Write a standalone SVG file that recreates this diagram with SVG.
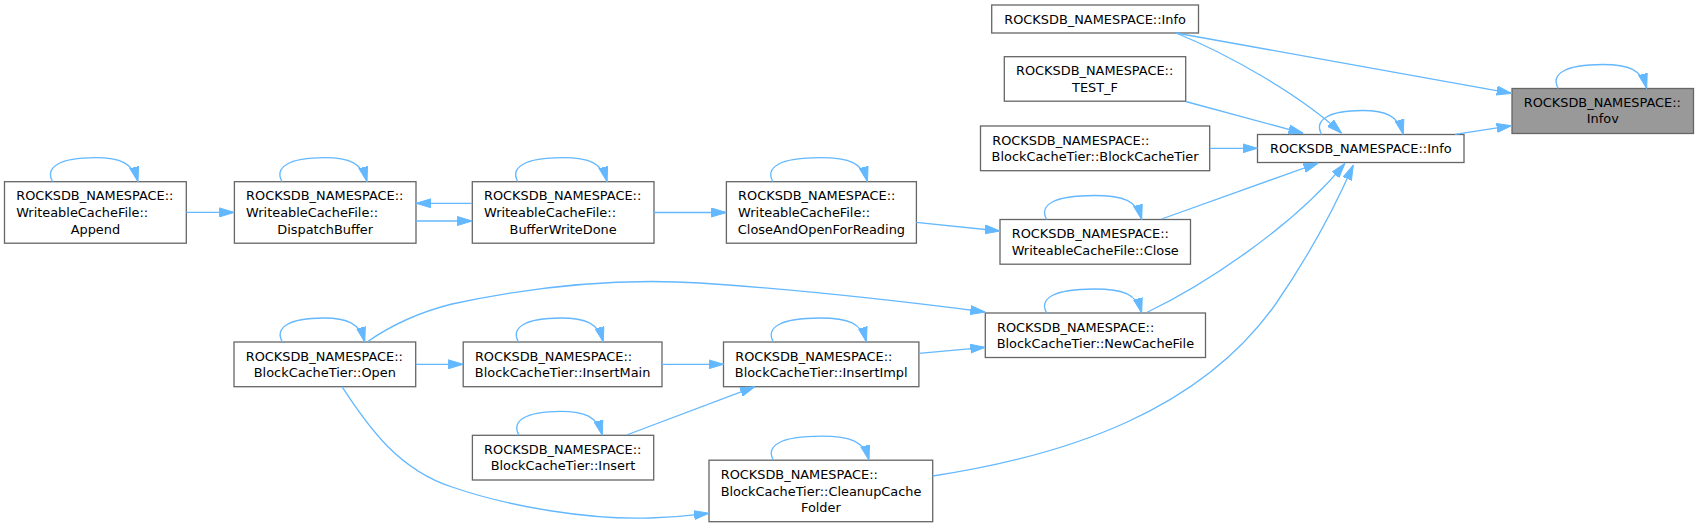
<svg xmlns="http://www.w3.org/2000/svg" width="1699" height="527" viewBox="0 0 1699 527">
<style>
.node rect{fill:#ffffff;stroke:#666666;stroke-width:1.3}
.node rect.cur{fill:#999999}
.node text{font-family:"DejaVu Sans",sans-serif;font-size:12.9px;fill:#000000}
.node text.m{text-anchor:middle}
.edge{fill:none;stroke:#63b8ff;stroke-width:1.3;marker-end:url(#ah)}
</style>
<defs>
<marker id="ah" viewBox="0 0 15 10" refX="15" refY="5" markerWidth="15" markerHeight="10" markerUnits="userSpaceOnUse" orient="auto">
<path d="M0,0.5 L15,5 L0,9.5 z" fill="#63b8ff" stroke="#63b8ff" stroke-width="1"/>
</marker>
</defs>
<rect x="0" y="0" width="1699" height="527" fill="#ffffff"/>
<g id="nodes">
<g id="node1" class="node"><rect class="cur" x="1512" y="88.5" width="181.5" height="45"/><text x="1523.7" y="106.8">ROCKSDB_NAMESPACE::</text><text class="m" x="1602.75" y="123.3">Infov</text></g>
<g id="node2" class="node"><rect x="1257.5" y="134.5" width="206.5" height="28"/><text class="m" x="1360.75" y="153">ROCKSDB_NAMESPACE::Info</text></g>
<g id="node3" class="node"><rect x="991.7" y="5" width="206.8" height="28"/><text class="m" x="1095.1" y="23.5">ROCKSDB_NAMESPACE::Info</text></g>
<g id="node4" class="node"><rect x="1004.3" y="56.7" width="181.4" height="44.5"/><text x="1016" y="75.2">ROCKSDB_NAMESPACE::</text><text class="m" x="1095" y="91.7">TEST_F</text></g>
<g id="node5" class="node"><rect x="980.5" y="126" width="229.2" height="44.7"/><text x="992.2" y="144.5">ROCKSDB_NAMESPACE::</text><text class="m" x="1095.1" y="161">BlockCacheTier::BlockCacheTier</text></g>
<g id="node6" class="node"><rect x="1000" y="219.5" width="190.5" height="44.7"/><text x="1011.7" y="238">ROCKSDB_NAMESPACE::</text><text class="m" x="1095.25" y="254.5">WriteableCacheFile::Close</text></g>
<g id="node7" class="node"><rect x="985.3" y="313" width="220.2" height="44.5"/><text x="997" y="331.5">ROCKSDB_NAMESPACE::</text><text class="m" x="1095.4" y="348">BlockCacheTier::NewCacheFile</text></g>
<g id="node8" class="node"><rect x="726.4" y="181.7" width="190" height="61.5"/><text x="738.1" y="200.4">ROCKSDB_NAMESPACE::</text><text x="738.1" y="217">WriteableCacheFile::</text><text class="m" x="821.4" y="233.7">CloseAndOpenForReading</text></g>
<g id="node9" class="node"><rect x="472.3" y="181.7" width="181.7" height="61.5"/><text x="484" y="200.4">ROCKSDB_NAMESPACE::</text><text x="484" y="217">WriteableCacheFile::</text><text class="m" x="563.15" y="233.7">BufferWriteDone</text></g>
<g id="node10" class="node"><rect x="234.4" y="181.7" width="181.6" height="61.5"/><text x="246.1" y="200.4">ROCKSDB_NAMESPACE::</text><text x="246.1" y="217">WriteableCacheFile::</text><text class="m" x="325.2" y="233.7">DispatchBuffer</text></g>
<g id="node11" class="node"><rect x="4.5" y="181.7" width="181.8" height="61.5"/><text x="16.2" y="200.4">ROCKSDB_NAMESPACE::</text><text x="16.2" y="217">WriteableCacheFile::</text><text class="m" x="95.4" y="233.7">Append</text></g>
<g id="node12" class="node"><rect x="723.5" y="342" width="195.4" height="44.7"/><text x="735.2" y="360.5">ROCKSDB_NAMESPACE::</text><text class="m" x="821.2" y="377">BlockCacheTier::InsertImpl</text></g>
<g id="node13" class="node"><rect x="463.2" y="342" width="198.8" height="44.7"/><text x="474.9" y="360.5">ROCKSDB_NAMESPACE::</text><text class="m" x="562.6" y="377">BlockCacheTier::InsertMain</text></g>
<g id="node14" class="node"><rect x="234" y="342" width="181.7" height="44.7"/><text x="245.7" y="360.5">ROCKSDB_NAMESPACE::</text><text class="m" x="324.85" y="377">BlockCacheTier::Open</text></g>
<g id="node15" class="node"><rect x="472.4" y="435.3" width="181.3" height="44.7"/><text x="484.1" y="453.8">ROCKSDB_NAMESPACE::</text><text class="m" x="563" y="470.3">BlockCacheTier::Insert</text></g>
<g id="node16" class="node"><rect x="709" y="460.2" width="223.7" height="61.5"/><text x="720.7" y="478.9">ROCKSDB_NAMESPACE::</text><text x="720.7" y="495.5">BlockCacheTier::CleanupCache</text><text class="m" x="820.85" y="512.2">Folder</text></g>
</g>
<g id="edges">
<path class="edge" d="M1176,33 L1511.7,93.3"/>
<path class="edge" d="M1176,33 C1230,55 1300,95 1341.7,133.3"/>
<path class="edge" d="M1185.7,101.5 L1303.3,133.3"/>
<path class="edge" d="M1209.7,148.3 L1257.5,148.3"/>
<path class="edge" d="M1161.7,219 L1318.3,163"/>
<path class="edge" d="M1146.7,312.5 C1200,287 1290,230 1345,163.3"/>
<path class="edge" d="M932.7,476 C1070,455 1200,410 1275,305 C1315,247 1338,200 1353.3,165"/>
<path class="edge" d="M1455,134.3 L1511.7,125.7"/>
<path class="edge" d="M916.2,222.3 L1000,231"/>
<path class="edge" d="M654,212.5 L726.4,212.5"/>
<path class="edge" d="M186.3,212.4 L234.4,212.4"/>
<path class="edge" d="M416,221 L472.3,221"/>
<path class="edge" d="M472.3,203.3 L416,203.3"/>
<path class="edge" d="M367,342 C390,326 420,312 452,304 C540,285 620,278 700,283 C790,289 900,301 985.3,312"/>
<path class="edge" d="M342,386.7 C370,430 400,470 452,487 C510,507 590,520 650,518 C675,517 695,515 709,513.3"/>
<path class="edge" d="M415.7,364.3 L463.2,364.3"/>
<path class="edge" d="M662,364.3 L723.5,364.3"/>
<path class="edge" d="M626.6,435 L755,386.7"/>
<path class="edge" d="M918.9,353.3 L985.3,347.3"/>
<path class="edge" d="M1558.3,88.5 C1550.3,74.5 1564.3,64.5 1602.5,64.5 C1628.7,64.5 1641.7,69.5 1646.7,88.5"/>
<path class="edge" d="M1321.7,134.5 C1313.7,120.5 1327.7,110.5 1362.5,110.5 C1385.3,110.5 1398.3,115.5 1403.3,134.5"/>
<path class="edge" d="M1046.7,219.5 C1038.7,205.5 1052.7,195.5 1094.2,195.5 C1123.7,195.5 1136.7,200.5 1141.7,219.5"/>
<path class="edge" d="M1046.7,313 C1038.7,299 1052.7,289 1094.2,289 C1123.7,289 1136.7,294 1141.7,313"/>
<path class="edge" d="M772.9,181.7 C764.9,167.7 778.9,157.7 820.2,157.7 C849.5,157.7 862.5,162.7 867.5,181.7"/>
<path class="edge" d="M517.9,181.7 C509.9,167.7 523.9,157.7 562.5,157.7 C589.1,157.7 602.1,162.7 607.1,181.7"/>
<path class="edge" d="M282.1,181.7 C274.1,167.7 288.1,157.7 324.5,157.7 C349,157.7 362,162.7 367,181.7"/>
<path class="edge" d="M52.7,181.7 C44.7,167.7 58.7,157.7 95.3,157.7 C120,157.7 133,162.7 138,181.7"/>
<path class="edge" d="M282.4,342 C274.4,328 288.4,318 323.6,318 C346.8,318 359.8,323 364.8,342"/>
<path class="edge" d="M518.5,342 C510.5,328 524.5,318 560.9,318 C585.3,318 598.3,323 603.3,342"/>
<path class="edge" d="M773.4,342 C765.4,328 779.4,318 820,318 C848.5,318 861.5,323 866.5,342"/>
<path class="edge" d="M519,435.3 C511,421.3 525,411.3 560.7,411.3 C584.3,411.3 597.3,416.3 602.3,435.3"/>
<path class="edge" d="M773.4,460.2 C765.4,446.2 779.4,436.2 821.2,436.2 C851,436.2 864,441.2 869,460.2"/>
</g>
</svg>
